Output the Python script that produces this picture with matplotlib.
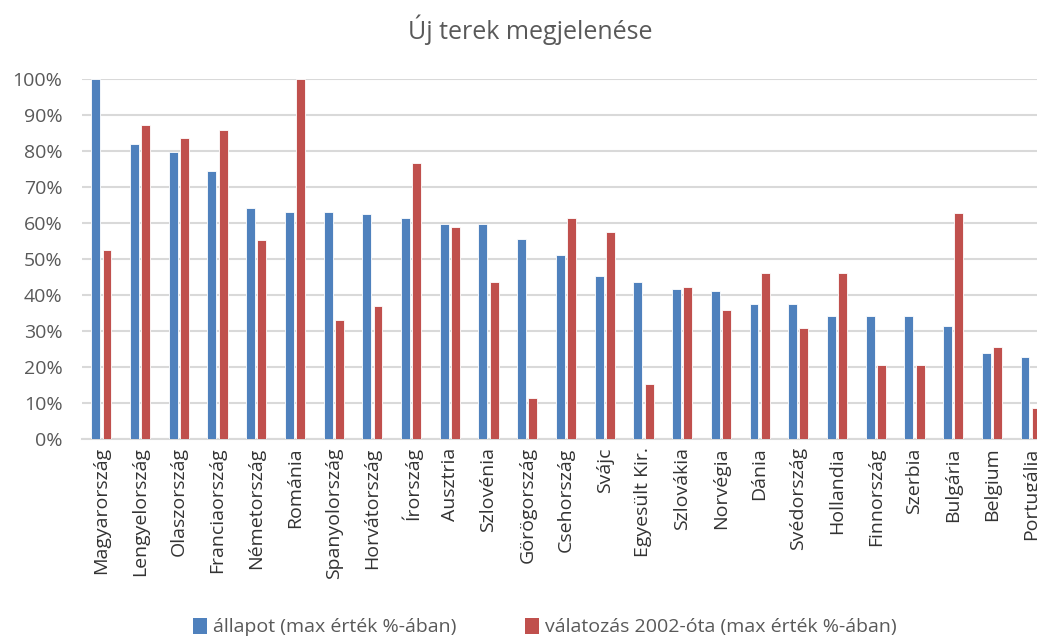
#!/usr/bin/env python
import numpy as np
import matplotlib
matplotlib.use('Agg')
import matplotlib.pyplot as plt
from matplotlib.patches import Patch
from matplotlib.ticker import FuncFormatter

#countries, sorted by current state
countries = ['Magyarország', 'Lengyelország', 'Olaszország', 'Franciaország', 'Németország',
	'Románia', 'Spanyolország', 'Horvátország', 'Írország', 'Ausztria', 'Szlovénia',
	'Görögország', 'Csehország', 'Svájc', 'Egyesült Kir.', 'Szlovákia', 'Norvégia',
	'Dánia', 'Svédország', 'Hollandia', 'Finnország', 'Szerbia', 'Bulgária', 'Belgium',
	'Portugália']

#state, % of max value
allapot = [100.0, 82.0, 79.7, 74.5, 64.2, 63.1, 63.1, 62.4, 61.4, 59.7, 59.7, 55.5, 51.1,
	45.2, 43.5, 41.7, 41.1, 37.6, 37.6, 34.1, 34.1, 34.1, 31.4, 23.8, 22.8]
#change since 2002, % of max value
valtozas = [52.5, 87.2, 83.5, 85.9, 55.2, 100.0, 33.1, 36.9, 76.8, 59.0, 43.5, 11.4, 61.4,
	57.6, 15.3, 42.1, 35.9, 46.0, 30.7, 46.0, 20.5, 20.5, 62.8, 25.6, 8.7]

yticks = np.arange(0, 101, 10)

def plot_uj_terek():
	W, H = 1037., 637.
	blue = '#4F81BD'
	red = '#C0504D'
	grey = '#595959'
	fig = plt.figure(figsize=(W/100., H/100.), dpi=100)
	#plot area runs past the right edge, last group gets cut
	ax = fig.add_axes([82/W, 198/H, 968/W, 360/H])

	x = np.arange(len(countries))
	bw = 0.23
	off = 0.145
	ax.bar(x - off, allapot, bw, color=blue, edgecolor='white', linewidth=0.6, zorder=3)
	ax.bar(x + off, valtozas, bw, color=red, edgecolor='white', linewidth=0.6, zorder=3)

	ax.set_xlim(-0.5, len(countries) - 0.5)
	ax.set_ylim(0, 100)
	ax.set_yticks(yticks)
	ax.yaxis.set_major_formatter(FuncFormatter(lambda v, p: '%d%%' % v))
	ax.grid(axis='y', color='#D9D9D9', linewidth=1.5, zorder=0)
	ax.set_axisbelow(True)
	for s in ['top', 'right', 'left']:
		ax.spines[s].set_visible(False)
	ax.spines['bottom'].set_color('#D9D9D9')
	ax.spines['bottom'].set_linewidth(1.5)
	ax.tick_params(axis='both', length=0, colors=grey, labelsize=14)
	ax.tick_params(axis='y', pad=14)
	ax.set_xticks(x)
	ax.set_xticklabels(countries, rotation=90, fontsize=14, color='#333333')
	ax.tick_params(axis='x', pad=6)

	fig.text(530/W, 1 - 30/H, 'Új terek megjelenése', ha='center', va='center',
		fontsize=18, color=grey)

	handles = [Patch(facecolor=blue), Patch(facecolor=red)]
	labels = ['állapot (max érték %-ában)', 'válatozás 2002-óta (max érték %-ában)']
	fig.legend(handles, labels, loc='center', bbox_to_anchor=(545/W, 1 - 627/H), ncol=2,
		frameon=False, fontsize=14, handlelength=0.7, handleheight=0.9, handletextpad=0.35,
		columnspacing=3.5, labelcolor=grey)

	plt.savefig('out.png', dpi=100)

if __name__ == "__main__":
	plt.rcParams['font.family'] = ['Open Sans', 'DejaVu Sans']
	plot_uj_terek()
